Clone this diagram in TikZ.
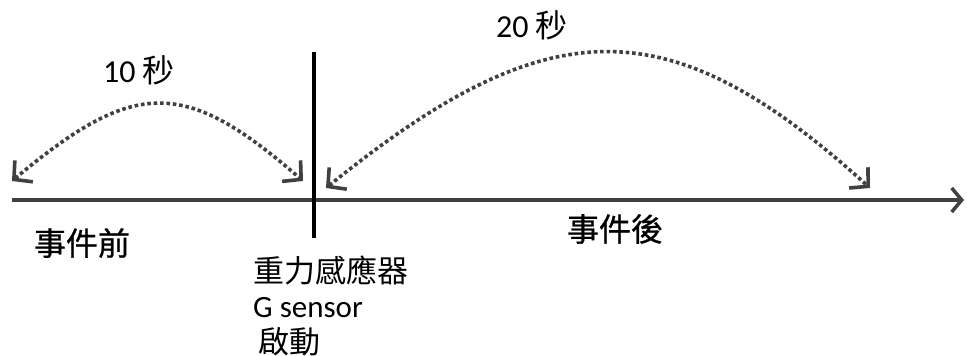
\documentclass[tikz,border=0pt]{standalone}
\usepackage{fontspec}
\setmainfont{Carlito}
\newfontfamily\cjk{Noto Sans CJK TC}
\newfontfamily\cjkb[FakeBold=0.8]{Noto Sans CJK TC}
\usetikzlibrary{arrows.meta}
\definecolor{axisgray}{HTML}{404040}
\tikzset{
  axisline/.style={draw=axisgray, line width=4pt, -{Straight Barb[length=10pt,width=24pt,line width=3.5pt]}},
  eventline/.style={draw=black, line width=4pt},
  spanarc/.style={draw=axisgray, line width=3.6pt, dash pattern=on 3.6pt off 2.8pt,
    {Straight Barb[length=13pt,width=28pt,line width=3.6pt]}-{Straight Barb[length=13pt,width=28pt,line width=3.6pt]}},
  lbl/.style={inner sep=0pt, text=black},
}
\begin{document}
\begin{tikzpicture}[x=1pt,y=-1pt]
\useasboundingbox (0,0) rectangle (967,356);
% axis
\coordinate (axL) at (12,200);
\coordinate (axR) at (964,200);
\draw[axisline] (axL) -- (axR);
% event line
\coordinate (evT) at (314,52);
\coordinate (evB) at (314,238);
\draw[eventline] (evT) -- (evB);
% arcs
\coordinate (a1) at (12,181);
\coordinate (a2) at (303,181);
\coordinate (b1) at (326,188);
\coordinate (b2) at (870,188);
\draw[spanarc] (a1) .. controls (135,78) and (185,78) .. (a2);
\draw[spanarc] (b1) .. controls (550,7) and (670,7) .. (b2);
% labels
\node[lbl, anchor=base west] (t10) at (103,82) {\fontsize{32}{36}\selectfont 10 {\cjk 秒}};
\node[lbl, anchor=base west] (t20) at (496,37) {\fontsize{32}{36}\selectfont 20 {\cjk 秒}};
\node[lbl, anchor=center] (pre) at (82,243) {\fontsize{32}{38}\selectfont\cjkb 事件前};
\node[lbl, anchor=center] (post) at (615,229) {\fontsize{32}{38}\selectfont\cjkb 事件後};
\node[lbl, anchor=west] (gs1) at (253,270) {\fontsize{31}{37}\selectfont\cjk 重力感應器};
\node[lbl, anchor=base west] (gs2) at (253,317) {\fontsize{31}{37}\selectfont G sensor};
\node[lbl, anchor=west] (gs3) at (258,342) {\fontsize{31}{37}\selectfont\cjk 啟動};
\end{tikzpicture}
\end{document}
